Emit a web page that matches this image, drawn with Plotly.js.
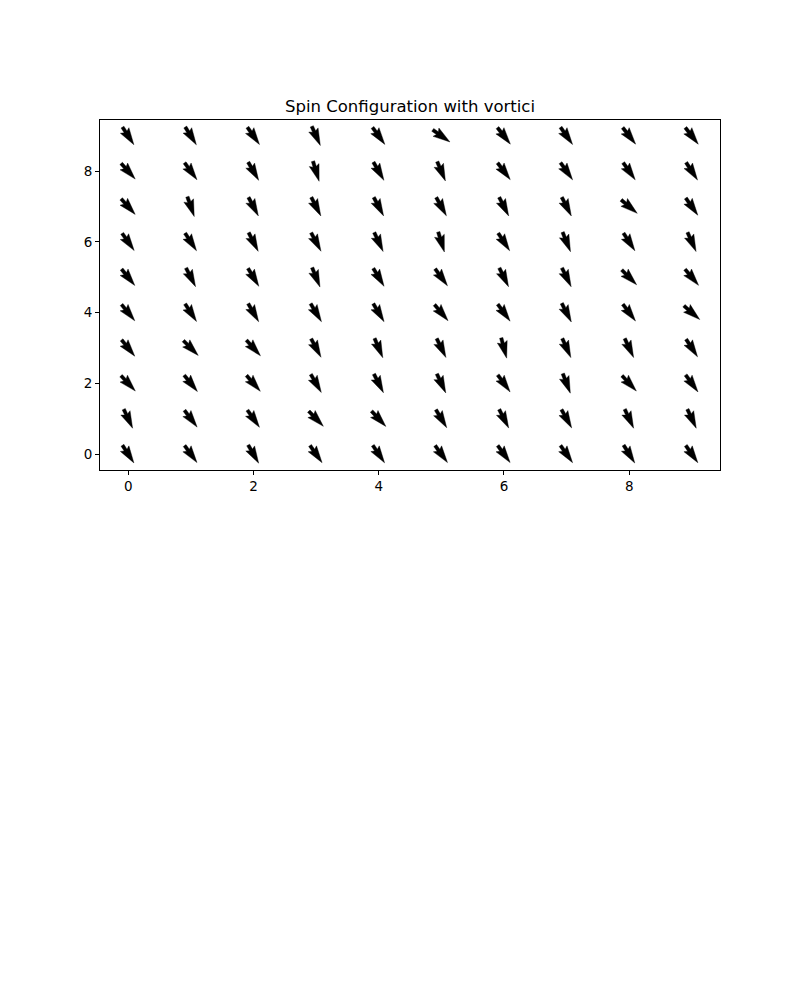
<!DOCTYPE html>
<html>
<head>
<meta charset="utf-8">
<script src="https://cdn.plot.ly/plotly-3.0.1.min.js"></script>
<style>html,body{margin:0;padding:0;background:#fff;}</style>
</head>
<body>
<div id="chart" style="width:800px;height:1000px;"></div>
<script>
// Grid coordinates
const gridX = [0, 1, 2, 3, 4, 5, 6, 7, 8, 9];
const gridY = [0, 1, 2, 3, 4, 5, 6, 7, 8, 9];

// Spin direction (screen angle in degrees, counter-clockwise from +x), one row per y value
const spinRow0 = [-57, -54, -60, -55, -56, -54, -54, -55, -58, -55];
const spinRow1 = [-65, -53, -55, -46, -47, -59, -63, -61, -65, -65];
const spinRow2 = [-47, -51, -49, -60, -63, -65, -54, -69, -47, -54];
const spinRow3 = [-51, -45, -48, -62, -67, -64, -75, -66, -65, -57];
const spinRow4 = [-51, -57, -60, -59, -59, -50, -54, -63, -53, -41];
const spinRow5 = [-51, -63, -59, -68, -59, -54, -64, -64, -45, -50];
const spinRow6 = [-55, -57, -63, -62, -65, -73, -57, -68, -57, -66];
const spinRow7 = [-48, -71, -62, -63, -62, -61, -63, -63, -40, -55];
const spinRow8 = [-48, -54, -60, -73, -60, -67, -53, -55, -55, -57];
const spinRow9 = [-57, -58, -55, -66, -54, -35, -52, -55, -52, -52];
const spinRows = [spinRow0, spinRow1, spinRow2, spinRow3, spinRow4,
                  spinRow5, spinRow6, spinRow7, spinRow8, spinRow9];

const tickVals = [0, 2, 4, 6, 8];
const titleText = "Spin Configuration with vortici";

// Layout geometry
const W = 800, H = 1000;
const margin = {l: 100, r: 80, t: 120, b: 530};
const xRange = [-0.45, 9.45];
const yRange = [-0.45, 9.45];
const plotW = W - margin.l - margin.r;
const plotH = H - margin.t - margin.b;
const pxPerX = plotW / (xRange[1] - xRange[0]);
const pxPerY = plotH / (yRange[1] - yRange[0]);

// matplotlib-like quiver arrow (pivot middle), in pixels
const arrowLen = 21, shaftW = 3.4;
const hw = 3, hl = 5, hal = 4.5;
const baseS = [0, arrowLen - hal * shaftW, arrowLen - hl * shaftW, arrowLen,
               arrowLen - hl * shaftW, arrowLen - hal * shaftW, 0, 0];
const baseT = [0.5 * shaftW, 0.5 * shaftW, 0.5 * hw * shaftW, 0,
               -0.5 * hw * shaftW, -0.5 * shaftW, -0.5 * shaftW, 0.5 * shaftW];

const xs = [], ys = [];
gridY.forEach((gy, j) => {
  gridX.forEach((gx, i) => {
    const th = spinRows[j][i] * Math.PI / 180;
    const c = Math.cos(th), s = Math.sin(th);
    for (let k = 0; k < baseS.length; k++) {
      const sp = baseS[k] - arrowLen / 2;
      const tp = baseT[k];
      const dx = sp * c - tp * s;
      const dy = sp * s + tp * c;
      xs.push(gx + dx / pxPerX);
      ys.push(gy + dy / pxPerY);
    }
    xs.push(null); ys.push(null);
  });
});

const trace = {
  type: 'scatter',
  mode: 'lines',
  x: xs,
  y: ys,
  fill: 'toself',
  fillcolor: '#000000',
  line: {color: '#000000', width: 0.4},
  hoverinfo: 'skip',
  showlegend: false
};

const axisCommon = {
  showgrid: false,
  zeroline: false,
  showline: true,
  mirror: true,
  linecolor: '#000000',
  linewidth: 1,
  ticks: 'outside',
  ticklen: 4,
  tickwidth: 1,
  tickcolor: '#000000',
  tickmode: 'array',
  tickvals: tickVals,
  ticktext: tickVals.map(String),
  tickfont: {family: 'DejaVu Sans', size: 13.5, color: '#000000'}
};

const layout = {
  width: W,
  height: H,
  margin: margin,
  paper_bgcolor: '#ffffff',
  plot_bgcolor: '#ffffff',
  title: {
    text: titleText,
    font: {family: 'DejaVu Sans', size: 16.5, color: '#000000'},
    x: (margin.l + plotW / 2) / W,
    xanchor: 'center',
    y: 1 - 106 / H,
    yanchor: 'middle'
  },
  xaxis: Object.assign({}, axisCommon, {range: xRange}),
  yaxis: Object.assign({}, axisCommon, {range: yRange}),
  showlegend: false
};

Plotly.newPlot('chart', [trace], layout, {staticPlot: true, displayModeBar: false});
</script>
</body>
</html>
